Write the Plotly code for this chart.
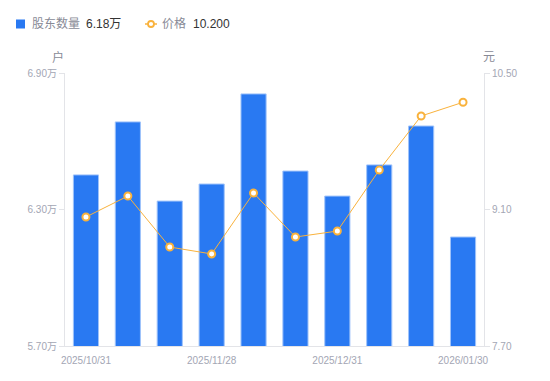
import plotly.graph_objects as go

dates = ["2025/10/31", "2025/11/10", "2025/11/20", "2025/11/28", "2025/12/10",
         "2025/12/19", "2025/12/31", "2026/01/09", "2026/01/20", "2026/01/30"]
holders = [6.452, 6.685, 6.337, 6.412, 6.808, 6.469, 6.359, 6.496, 6.667, 6.179]  # 万户
price = [9.023, 9.238, 8.715, 8.644, 9.269, 8.818, 8.879, 9.505, 10.059, 10.200]
x_ticks = ["2025/10/31", "2025/11/28", "2025/12/31", "2026/01/30"]
left_ticks = [5.70, 6.30, 6.90]
right_ticks = [7.70, 9.10, 10.50]
legend_names = ["股东数量", "价格"]
legend_values = ["6.18万", "10.200"]

FONT = "Liberation Sans, Noto Sans CJK SC, sans-serif"
GRAY = "#a3a6b4"
LABEL = "#888a96"
DARK = "#333333"
AXIS = "#e3e4e8"
BLUE = "#2979f2"
ORANGE = "#f9b23c"

W, H = 550, 381
ML, MR, MT, MB = 65, 66, 73, 35
PW, PH = W - ML - MR, H - MT - MB


def px(x):
    return (x - ML) / PW


def py(y):
    return 1 - (y - MT) / PH


fig = go.Figure()
fig.add_trace(go.Bar(
    x=dates, y=holders, width=0.6,
    marker=dict(color=BLUE, line=dict(color="#9fc3fa", width=1)),
    name=legend_names[0], yaxis="y", showlegend=False,
))
fig.add_trace(go.Scatter(
    x=dates, y=price, mode="lines+markers",
    line=dict(color=ORANGE, width=1),
    marker=dict(size=7, color="white", line=dict(color=ORANGE, width=2)),
    name=legend_names[1], yaxis="y2", showlegend=False,
))

shapes = [
    dict(type="rect", xref="paper", yref="paper", x0=px(16), x1=px(25), y0=py(28.5), y1=py(19.5),
         fillcolor=BLUE, line=dict(width=0)),
    dict(type="line", xref="paper", yref="paper", x0=px(145), x1=px(157), y0=py(24), y1=py(24),
         line=dict(color=ORANGE, width=1.5)),
    dict(type="circle", xref="paper", yref="paper", x0=px(148), x1=px(154), y0=py(27), y1=py(21),
         fillcolor="white", line=dict(color=ORANGE, width=1.8)),
]

def ann(text, x, y, color, size=12, anchor="left"):
    return dict(text=text, xref="paper", yref="paper", x=px(x), y=py(y),
                xanchor=anchor, yanchor="middle", showarrow=False,
                font=dict(size=size, color=color, family=FONT))

annotations = [
    ann(legend_names[0], 30, 24, LABEL),
    ann(legend_values[0], 84, 24, DARK),
    ann(legend_names[1], 160, 24, LABEL),
    ann(legend_values[1], 191, 24, DARK),
    ann("户", 58, 57, LABEL, anchor="center"),
    ann("元", 489, 57, LABEL, anchor="center"),
]

fig.update_layout(
    width=W, height=H,
    margin=dict(l=ML, r=MR, t=MT, b=MB),
    paper_bgcolor="white", plot_bgcolor="white",
    font=dict(family=FONT, size=10, color=GRAY),
    showlegend=False,
    bargap=0.4,
    xaxis=dict(type="category", range=[-0.5, len(dates) - 0.5],
               tickmode="array", tickvals=x_ticks, ticktext=x_ticks,
               showline=True, linecolor=AXIS, linewidth=1, showgrid=False,
               ticks="", ticklabelstandoff=5, tickfont=dict(size=10, color=GRAY),
               automargin=False),
    yaxis=dict(range=[5.70, 6.90], tickmode="array", tickvals=left_ticks,
               ticktext=[f"{v:.2f}万" for v in left_ticks],
               showline=True, linecolor=AXIS, linewidth=1, showgrid=False,
               ticks="outside", ticklen=5, tickcolor=AXIS, zeroline=False,
               tickfont=dict(size=10, color=GRAY), automargin=False),
    yaxis2=dict(range=[7.70, 10.50], tickmode="array", tickvals=right_ticks,
                ticktext=[f"{v:.2f}" for v in right_ticks],
                overlaying="y", side="right",
                showline=True, linecolor=AXIS, linewidth=1, showgrid=False,
                ticks="outside", ticklen=5, tickcolor=AXIS, zeroline=False,
                tickfont=dict(size=10, color=GRAY), automargin=False),
    shapes=shapes,
    annotations=annotations,
)

fig.write_html("out.html", config={"displayModeBar": False},
               post_script="document.body.style.margin='0';")
